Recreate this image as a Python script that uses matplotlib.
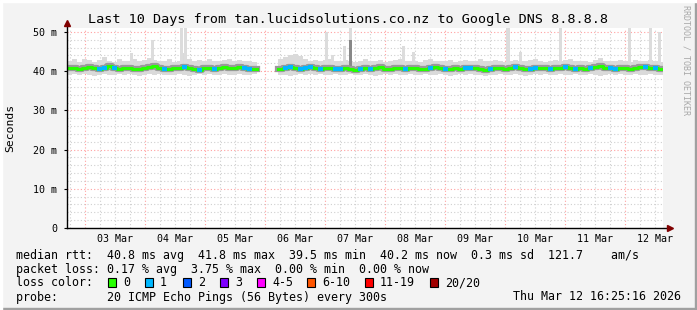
import matplotlib
matplotlib.use("Agg")
from matplotlib import pyplot as plt
from matplotlib.patches import Rectangle
import numpy as np

# time axis: days since 02 Mar 00:00, samples every 2 hours
step = 2 / 24
seg1_start = 0.70
seg2_start = 4.22

median1 = [40.9, 40.7, 40.6, 40.8, 41.0, 40.7, 40.5, 40.8, 41.2, 40.9, 40.6, 40.7, 40.9,
           40.6, 40.5, 40.8, 41.0, 41.3, 40.9, 40.6, 40.5, 40.7, 40.8, 41.1, 40.9, 40.6,
           40.4, 40.7, 40.9, 40.6, 40.8, 41.0, 40.7, 40.9, 41.1, 40.8, 40.6, 40.5]
median2 = [40.6, 40.8, 41.0, 40.7, 40.5, 40.9, 41.1, 40.8, 40.6, 40.7, 40.9, 40.6, 40.5,
           40.7, 40.6, 40.4, 40.6, 40.7, 40.5, 40.8, 41.0, 40.6, 40.5, 40.7, 40.9, 40.6,
           40.7, 40.8, 40.5, 40.6, 40.9, 41.0, 40.7, 40.6, 40.5, 40.8, 40.6, 40.7, 40.9,
           40.8, 40.6, 40.3, 40.5, 40.8, 40.9, 40.6, 40.7, 41.0, 40.8, 40.6, 40.5, 40.7,
           40.9, 40.8, 40.6, 40.7, 40.9, 41.1, 40.8, 40.6, 40.7, 40.5, 40.8, 41.0, 41.2,
           40.9, 40.7, 40.6, 40.8, 40.7, 40.5, 40.8, 41.0, 41.1, 40.8, 40.7, 40.5]

smoke_hi1 = [42.5, 43.0, 42.4, 43.2, 42.8, 42.3, 42.9, 43.5, 42.6, 42.4, 43.0, 42.7, 42.5,
             43.1, 42.6, 42.8, 43.4, 42.9, 42.5, 42.7, 43.0, 42.4, 42.6, 44.5, 43.0, 42.5,
             42.8, 42.6, 43.2, 42.7, 42.5, 42.9, 43.1, 42.6, 42.8, 42.5, 42.7, 42.4]
smoke_lo1 = [39.0, 39.2, 39.1, 39.3, 39.0, 38.8, 39.1, 39.2, 38.9, 39.1, 39.3, 39.0, 39.2,
             39.1, 38.8, 39.0, 39.2, 39.1, 39.3, 39.0, 38.9, 39.1, 39.2, 39.0, 38.8, 39.1,
             39.3, 39.0, 39.2, 39.1, 38.9, 39.2, 39.0, 39.1, 39.3, 39.0, 39.1, 39.2]
smoke_hi2 = [43.0, 43.5, 44.0, 44.3, 43.8, 43.0, 42.6, 42.9, 42.5, 42.8, 43.1, 42.6, 42.5,
             42.8, 42.6, 42.4, 42.7, 43.0, 42.5, 42.6, 42.9, 42.4, 42.6, 42.8, 43.2, 42.5,
             42.7, 42.6, 42.4, 42.8, 43.0, 42.6, 42.5, 42.7, 42.9, 42.4, 42.6, 42.8, 42.5,
             42.7, 43.0, 42.6, 42.5, 42.8, 42.6, 42.4, 42.7, 42.9, 42.5, 42.6, 42.8, 43.1,
             42.5, 42.4, 42.7, 42.9, 42.6, 42.8, 43.0, 42.5, 42.6, 42.7, 42.4, 42.8, 43.3,
             42.6, 42.5, 42.7, 42.9, 42.6, 42.4, 42.8, 42.7, 42.5, 42.9, 42.6, 42.4]
smoke_lo2 = [39.1, 38.9, 38.8, 39.0, 39.2, 39.1, 39.3, 39.0, 39.2, 39.1, 38.9, 39.2, 39.0,
             39.1, 39.3, 39.0, 39.1, 39.2, 39.0, 38.8, 39.1, 39.3, 39.0, 39.2, 39.1, 38.9,
             39.2, 39.0, 39.1, 39.3, 39.0, 39.1, 39.2, 39.0, 38.8, 39.1, 39.3, 39.0, 39.2,
             39.1, 38.9, 38.7, 39.0, 39.1, 39.3, 39.0, 39.1, 39.2, 39.0, 38.8, 39.1, 39.3,
             39.0, 39.2, 39.1, 38.9, 39.2, 39.0, 39.1, 39.3, 39.0, 39.1, 39.2, 39.0, 38.8,
             39.1, 39.3, 39.0, 39.2, 39.1, 38.9, 39.2, 39.0, 39.1, 39.3, 39.0, 39.1]

# sample indices where 1 of 20 pings was lost
loss1_idx = [6, 7, 9, 19, 23, 26, 29, 35, 36]
loss2_idx = [1, 2, 4, 5, 6, 8, 11, 12, 16, 18, 25, 30, 33, 37, 38, 42, 47, 50, 51,
             54, 57, 59, 62, 66, 67, 73, 75]

# occasional high outliers (day, top ms, dark?)
spike_day = [1.767, 2.133, 2.600, 2.667, 5.033, 5.133, 5.333, 5.417, 5.417, 6.300,
             6.467, 8.050, 8.250, 8.917, 10.083, 10.417, 10.583]
spike_top = [44.5, 48.0, 51.0, 51.0, 50.0, 44.0, 46.5, 51.0, 48.0, 46.5,
             45.0, 51.0, 45.0, 51.0, 51.0, 51.0, 50.0]
spike_dark = [0, 0, 0, 0, 0, 0, 0, 0, 1, 0, 0, 0, 0, 0, 0, 0, 0]

day_labels = ["03 Mar", "04 Mar", "05 Mar", "06 Mar", "07 Mar",
              "08 Mar", "09 Mar", "10 Mar", "11 Mar", "12 Mar"]
y_ticks = [0, 10, 20, 30, 40, 50]
y_labels = ["0", "10 m", "20 m", "30 m", "40 m", "50 m"]

loss_names = ["0", "1", "2", "3", "4-5", "6-10", "11-19", "20/20"]
loss_colors = ["#26ff00", "#00b8ff", "#0059ff", "#7e00ff", "#ff00ff", "#ff5500", "#ff0000", "#a10000"]
loss_x = [108, 145, 183, 220, 257, 307, 365, 430]

W, H = 697, 310
BG = "#f3f3f3"
MONO = "DejaVu Sans Mono"

fig = plt.figure(figsize=(W / 100, H / 100), dpi=100)
fig.patch.set_facecolor(BG)

# 3d-ish frame
fig.add_artist(Rectangle((0, 0), 1, 2 / H, transform=fig.transFigure, color="#a0a0a0"))
fig.add_artist(Rectangle((1 - 2 / W, 0), 2 / W, 1, transform=fig.transFigure, color="#a0a0a0"))
fig.add_artist(Rectangle((0, 1 - 2 / H), 1, 2 / H, transform=fig.transFigure, color="#ffffff"))
fig.add_artist(Rectangle((0, 0), 2 / W, 1, transform=fig.transFigure, color="#ffffff"))

x0, x1 = 67, 663
ytop, ybot = 28, 228
ax = fig.add_axes([x0 / W, (H - ybot) / H, (x1 - x0) / W, (ybot - ytop) / H])
ax.set_facecolor("white")
xmin = seg1_start
xmax = seg1_start + (x1 - x0) / 60
ax.set_xlim(xmin, xmax)
ax.set_ylim(0, 51)
for s in ax.spines.values():
    s.set_visible(False)

# grid
minor = "#d0d0d0"
major = "#ffa0a0"
dots = (0, (1, 2))
for d in np.arange(0.75, xmax, 0.25):
    is_major = abs(d - round(d)) < 1e-6
    ax.axvline(d, color=major if is_major else minor, lw=0.8, ls=dots, zorder=0)
for v in range(2, 51, 2):
    ax.axhline(v, color=major if v % 10 == 0 else minor, lw=0.8, ls=dots, zorder=0)

# smoke, spikes and median
for start, med, lo, hi, lidx in [(seg1_start, median1, smoke_lo1, smoke_hi1, loss1_idx),
                                  (seg2_start, median2, smoke_lo2, smoke_hi2, loss2_idx)]:
    med = np.array(med)
    t = start + np.arange(len(med)) * step
    te = np.append(t, t[-1] + step)
    ax.fill_between(te, np.append(lo, lo[-1]), np.append(hi, hi[-1]),
                    step="post", color="#dadada", lw=0, zorder=1)
    ax.step(te, np.append(med, med[-1]), where="post", color="#9a9a9a", lw=4.5, zorder=2)
    ax.step(te, np.append(med, med[-1]), where="post", color=loss_colors[0], lw=2.2, zorder=3)
    for i in lidx:
        ax.hlines(med[i], t[i], t[i] + step, color=loss_colors[1], lw=3, zorder=4)

for d, top, dark in zip(spike_day, spike_top, spike_dark):
    ax.bar(d, top - 41, bottom=41, width=0.05, color="#888888" if dark else "#dcdcdc",
           lw=0, zorder=1.5 if dark else 1)

# ticks
ax.set_yticks(y_ticks)
ax.set_yticklabels(y_labels, fontfamily=MONO, fontsize=7.2)
ax.set_xticks(np.arange(1.5, 1.5 + len(day_labels)))
ax.set_xticklabels(day_labels, fontfamily=MONO, fontsize=7.2)
ax.tick_params(axis="x", length=0, pad=4)
ax.tick_params(axis="y", length=2, pad=5)

# axis lines with arrows
axc = "#800000"
ax.plot([0, (670 - x0) / (x1 - x0)], [0, 0], transform=ax.transAxes, color="black",
        lw=1, clip_on=False, zorder=5)
ax.plot([0, 0], [0, (ybot - 23) / (ybot - ytop)], transform=ax.transAxes, color="black",
        lw=1, clip_on=False, zorder=5)
ax.plot([(670 - x0) / (x1 - x0)], [0], transform=ax.transAxes, marker=">", color=axc,
        ms=4, clip_on=False, zorder=6)
ax.plot([0], [(ybot - 23) / (ybot - ytop)], transform=ax.transAxes, marker="^", color=axc,
        ms=4, clip_on=False, zorder=6)

def px(x, y):
    return x / W, 1 - y / H

fig.text(*px(348, 19), "Last 10 Days from tan.lucidsolutions.co.nz to Google DNS 8.8.8.8",
         ha="center", va="center", fontfamily=MONO, fontsize=9.7)
fig.text(*px(10, 128), "Seconds", rotation=90, ha="center", va="center",
         fontfamily=MONO, fontsize=8.2)
fig.text(*px(686, 60), "RRDTOOL / TOBI OETIKER", rotation=270, ha="center", va="center",
         fontfamily=MONO, fontsize=6, color="#a8a8a8")

fs = 8.4
def leg(x, y, s):
    fig.text(*px(x, y), s, ha="left", va="center", fontfamily=MONO, fontsize=fs)

leg(16, 255, "median rtt:  40.8 ms avg  41.8 ms max  39.5 ms min  40.2 ms now  0.3 ms sd  121.7    am/s")
leg(16, 269, "packet loss: 0.17 % avg  3.75 % max  0.00 % min  0.00 % now")
leg(16, 283, "loss color:")
for name, c, bx in zip(loss_names, loss_colors, loss_x):
    fig.add_artist(Rectangle(px(bx, 287), 8 / W, 9 / H, transform=fig.transFigure,
                             facecolor=c, edgecolor="black", lw=0.8))
    leg(bx + 15, 283, name)
leg(16, 297, "probe:       20 ICMP Echo Pings (56 Bytes) every 300s")
leg(513, 297, "Thu Mar 12 16:25:16 2026")

fig.savefig("out.png", dpi=100, facecolor=BG)
